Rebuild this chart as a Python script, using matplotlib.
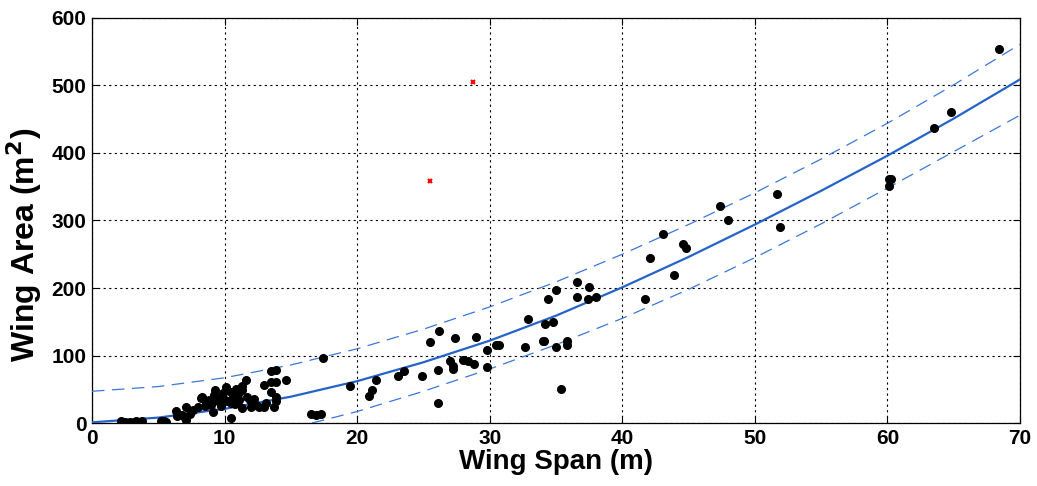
import numpy as np
import matplotlib.pyplot as plt

plt.rcParams['font.family'] = ['Liberation Sans', 'DejaVu Sans']

# measured aircraft: wing span (m) and wing area (m^2)
span = [2.2, 2.5, 2.9, 3.3, 3.8, 5.2, 5.4, 5.6, 6.3, 6.4, 7.0, 7.1, 7.1, 7.6, 8.0, 8.2,
        8.3, 8.5, 8.8, 9.0, 9.2, 9.3, 9.1, 9.5, 9.7, 9.7, 10.1, 10.0, 10.2, 10.5, 10.5,
        10.6, 10.85, 11.0, 11.1, 11.35, 11.35, 11.6, 11.7, 11.9, 12.0, 12.4, 12.6, 13.0,
        13.1, 13.0, 13.5, 13.5, 13.9, 13.5, 13.9, 13.9, 13.9, 14.6, 13.7, 10.5, 8.6,
        9.9, 10.8, 12.2, 7.4, 6.8, 11.3,
        16.5, 16.9, 17.3, 17.4, 19.5, 21.4, 21.1, 20.9, 23.1, 23.5, 24.9, 25.5, 26.2,
        26.1, 26.1, 27.0, 27.2, 27.2, 27.4, 28.0, 28.4, 28.8, 29.0, 29.8, 29.8, 30.5,
        30.7, 32.9, 32.7, 34.2, 34.1, 34.8, 34.0, 35.0, 35.8, 35.8, 35.4, 35.0, 34.4,
        36.6, 37.5, 36.6, 37.4, 38.0,
        41.7, 42.1, 43.1, 43.9, 44.6, 44.8, 47.4, 48.0, 51.7, 51.9,
        60.1, 60.3, 60.1, 63.5, 64.8, 68.4]
area = [3, 2, 2, 3, 3, 3, 3, 2, 18, 10, 8, 24, 5, 20, 23, 37,
        39, 25, 34, 27, 41, 49, 17, 32, 39, 25, 53, 34, 32, 7, 46,
        38, 51, 43, 34, 49, 22, 63, 39, 34, 24, 27, 23, 24,
        29, 56, 46, 61, 61, 77, 79, 38, 32, 63, 24, 30, 30,
        44, 28, 36, 14, 12, 55,
        13, 12, 13, 97, 55, 64, 49, 40, 70, 77, 70, 120, 136,
        78, 29, 92, 85, 80, 126, 94, 92, 88, 127, 108, 83, 116,
        115, 154, 112, 147, 122, 150, 122, 112, 122, 116, 50, 197, 184,
        209, 201, 187, 183, 186,
        184, 244, 280, 219, 265, 260, 321, 300, 339, 291,
        361, 362, 351, 437, 460, 554]

# excluded points (red crosses)
out_span = [28.75, 25.5]
out_area = [505, 358]

# fitted curve and prediction bounds
fit_x = [0, 5, 10, 15, 20, 25, 30, 35, 40, 45, 50, 55, 60, 65, 70]
fit_y = [1, 8, 21, 39, 62, 90, 122, 159, 201, 246, 294, 344, 396, 451, 509]
upper_y = [47, 54, 67, 86, 110, 139, 172, 209, 250, 294, 341, 391, 444, 501, 561]
lower_x = [16.6, 20, 25, 30, 35, 40, 45, 50, 55, 60, 65, 70]
lower_y = [0, 17, 47, 80, 116, 155, 198, 245, 295, 348, 402, 456]

fig = plt.figure(figsize=(10.37, 4.86), dpi=100)
ax = fig.add_axes([0.0887, 0.1296, 0.8949, 0.8334])

ax.plot(fit_x, fit_y, color='#2563c9', lw=1.6, zorder=3)
ax.plot(fit_x, upper_y, color='#3a78d8', lw=0.9, dashes=(10, 6), zorder=3)
ax.plot(lower_x, lower_y, color='#3a78d8', lw=0.9, dashes=(10, 6), zorder=3)
ax.plot(span, area, 'o', color='black', ms=5.5, zorder=4)
ax.plot(out_span, out_area, 'x', color='red', ms=3, mew=1.5, zorder=4)

ax.set_xlim(0, 70)
ax.set_ylim(0, 600)
ax.set_xticks(range(0, 71, 10))
ax.set_yticks(range(0, 601, 100))
ax.grid(True, color='black', ls=(0, (2, 3)), lw=0.8)
ax.tick_params(direction='in', top=True, right=True, length=5, labelsize=15, pad=4)
for lab in ax.get_xticklabels() + ax.get_yticklabels():
    lab.set_fontweight('bold')
for s in ax.spines.values():
    s.set_linewidth(0.9)

ax.set_xlabel('Wing Span (m)', fontsize=20, fontweight='bold', labelpad=1)
ax.set_ylabel('Wing Area (m$^\\mathbf{2}$)', fontsize=23, fontweight='bold')
ax.yaxis.set_label_coords(-0.052, 0.44)

fig.savefig('out.png', dpi=100)
